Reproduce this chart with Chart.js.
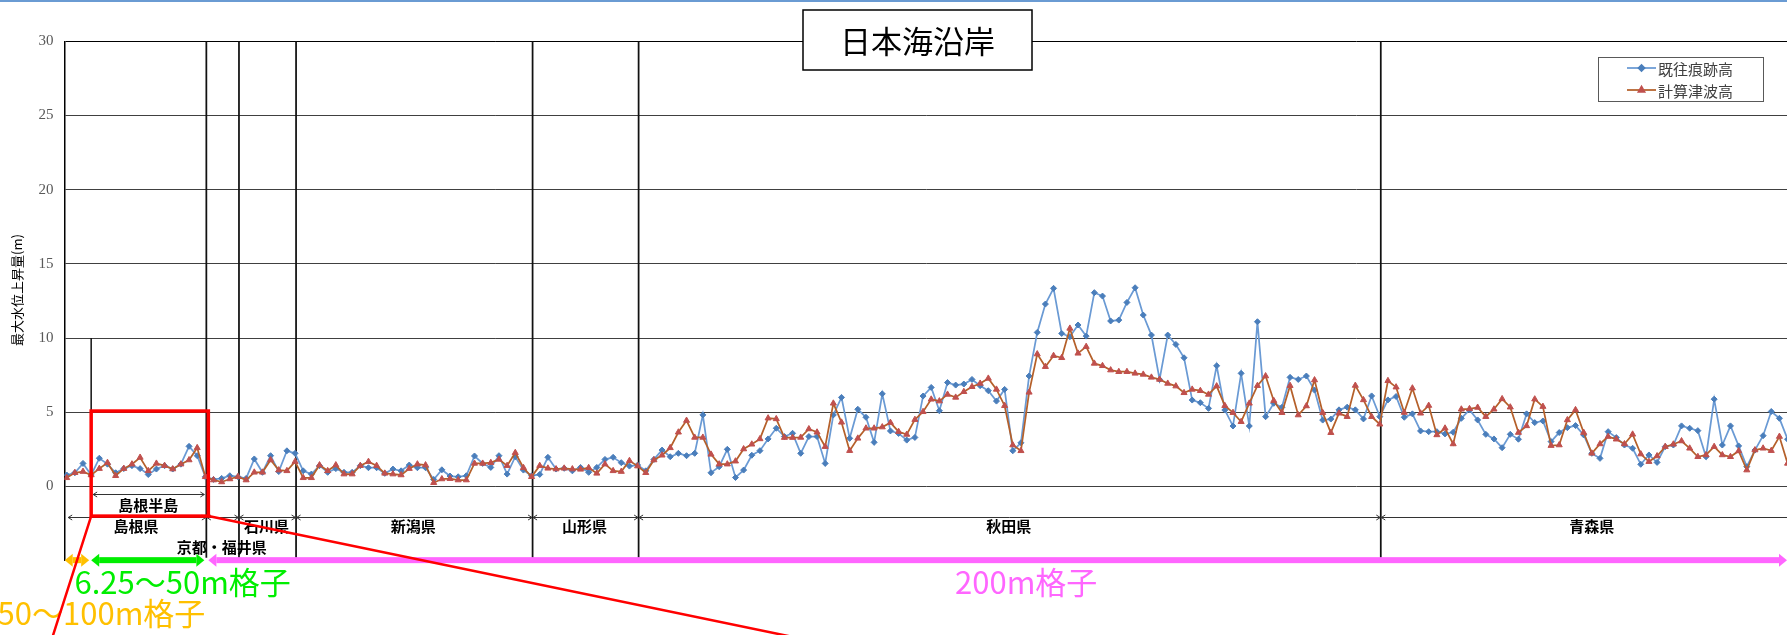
<!DOCTYPE html>
<html lang="ja">
<head>
<meta charset="utf-8">
<title>日本海沿岸</title>
<script src="https://cdn.jsdelivr.net/npm/chart.js@4.4.1/dist/chart.umd.min.js"></script>
<style>
  html, body { margin: 0; padding: 0; background: #fff; overflow: hidden; }
  canvas { display: block; }
</style>
</head>
<body>
<canvas id="tsunamiChart" width="1787" height="635"></canvas>
<script>
// 日本海沿岸 : 既往痕跡高 vs 計算津波高 (最大水位上昇量, m)
const seriesNames = ['既往痕跡高', '計算津波高'];

const blue = [
  0.77, 0.92, 1.55, 0.77, 1.9, 1.5, 0.92, 1.2, 1.4, 1.2, 0.8, 1.17,
  1.4, 1.17, 1.5, 2.7, 2.07, 0.65, 0.47, 0.54, 0.72, 0.65, 0.54, 1.85,
  0.95, 2.07, 1.0, 2.4, 2.23, 1.05, 0.83, 1.4, 0.95, 1.2, 0.95, 0.95,
  1.4, 1.26, 1.26, 0.88, 1.17, 1.05, 1.44, 1.26, 1.26, 0.47, 1.12, 0.7,
  0.65, 0.72, 2.05, 1.55, 1.28, 2.07, 0.83, 2.0, 1.1, 0.72, 0.81, 1.96,
  1.17, 1.22, 1.05, 1.28, 0.95, 1.28, 1.82, 1.96, 1.6, 1.37, 1.44, 1.05,
  1.82, 2.45, 2.0, 2.23, 2.07, 2.23, 4.82, 0.92, 1.33, 2.5, 0.6, 1.1,
  2.1, 2.41, 3.2, 3.92, 3.36, 3.58, 2.23, 3.36, 3.36, 1.55, 4.82, 6.0,
  3.24, 5.2, 4.66, 2.97, 6.24, 3.74, 3.57, 3.12, 3.3, 6.09, 6.67, 5.1,
  7.0, 6.83, 6.9, 7.21, 6.79, 6.45, 5.75, 6.54, 2.4, 2.94, 7.44, 10.38,
  12.29, 13.35, 10.31, 10.09, 10.88, 10.13, 13.06, 12.83, 11.15, 11.21, 12.4, 13.39,
  11.55, 10.2, 7.21, 10.2, 9.57, 8.67, 5.82, 5.64, 5.26, 8.13, 5.15, 4.07,
  7.62, 4.07, 11.1, 4.7, 5.6, 5.33, 7.35, 7.21, 7.44, 6.49, 4.47, 4.54,
  5.16, 5.34, 5.16, 4.55, 6.1, 4.7, 5.83, 6.06, 4.66, 4.89, 3.74, 3.69,
  3.69, 3.54, 3.65, 4.59, 5.16, 4.48, 3.51, 3.2, 2.61, 3.51, 3.18, 4.89,
  4.3, 4.41, 3.02, 3.63, 3.96, 4.1, 3.47, 2.23, 1.89, 3.69, 3.29, 2.79,
  2.57, 1.49, 2.12, 1.62, 2.68, 2.79, 4.08, 3.92, 3.76, 2.0, 5.88, 2.79,
  4.08, 2.73, 1.33, 2.45, 3.42, 5.05, 4.59, 3.18
];

const red = [
  0.58, 0.92, 1.0, 0.77, 1.2, 1.6, 0.72, 1.2, 1.5, 1.95, 1.05, 1.55,
  1.4, 1.17, 1.5, 1.78, 2.6, 0.65, 0.43, 0.3, 0.5, 0.65, 0.43, 0.95,
  0.95, 1.78, 1.1, 1.05, 1.67, 0.58, 0.58, 1.44, 1.05, 1.44, 0.83, 0.83,
  1.4, 1.67, 1.4, 0.88, 0.83, 0.77, 1.2, 1.5, 1.44, 0.25, 0.5, 0.52,
  0.43, 0.43, 1.55, 1.55, 1.6, 1.82, 1.4, 2.27, 1.26, 0.65, 1.4, 1.22,
  1.17, 1.22, 1.17, 1.15, 1.26, 0.88, 1.5, 1.05, 1.0, 1.73, 1.37, 0.92,
  1.78, 2.1, 2.6, 3.65, 4.44, 3.3, 3.3, 2.16, 1.5, 1.5, 1.7, 2.52,
  2.84, 3.2, 4.6, 4.55, 3.29, 3.29, 3.3, 3.87, 3.65, 2.68, 5.6, 4.32,
  2.41, 3.24, 3.92, 3.92, 4.0, 4.3, 3.69, 3.5, 4.5, 5.03, 5.87, 5.75,
  6.2, 6.0, 6.38, 6.72, 6.94, 7.28, 6.54, 5.44, 2.79, 2.4, 6.34, 8.92,
  8.07, 8.81, 8.67, 10.65, 8.97, 9.42, 8.29, 8.13, 7.84, 7.73, 7.73, 7.62,
  7.55, 7.35, 7.21, 6.94, 6.76, 6.31, 6.54, 6.45, 6.2, 6.76, 5.44, 4.97,
  4.36, 5.6, 6.79, 7.44, 5.78, 4.97, 6.79, 4.81, 5.42, 7.17, 4.97, 3.62,
  4.93, 4.7, 6.8, 5.83, 4.7, 4.19, 7.12, 6.69, 4.98, 6.62, 4.93, 5.45,
  3.47, 3.92, 2.86, 5.2, 5.23, 5.32, 4.7, 5.2, 5.9, 5.34, 3.63, 4.08,
  5.88, 5.38, 2.75, 2.79, 4.48, 5.16, 3.63, 2.23, 2.86, 3.36, 3.18, 2.86,
  3.51, 2.18, 1.67, 2.05, 2.68, 2.84, 3.06, 2.57, 2.0, 2.12, 2.68, 2.12,
  2.0, 2.39, 1.1, 2.45, 2.57, 2.41, 3.36, 1.55
];

// point numbers along the coast (x categories)
const pointNo = blue.map((_, i) => i + 1);

// prefecture sections: name i spans point prefBounds[i] .. prefBounds[i+1]
const prefNames = ['島根県', '京都・福井県', '石川県', '新潟県', '山形県', '秋田県', '青森県'];
const prefBounds = [1, 18, 22, 29, 58, 71, 162, 214];

// 島根半島 detail section
const peninsulaName = '島根半島';
const peninsulaBounds = [4, 18];

// computational grid sections
const gridNames = ['50～100m格子', '6.25～50m格子', '200m格子'];
const gridBounds = [1, 4, 18, 214];

const yTicks = [0, 5, 10, 15, 20, 25, 30];

const JP = '"Noto Sans CJK JP", "Noto Sans", sans-serif';
const gridColors = ['#FFC000', '#00EE00', '#FF66FF'];

function dimLine(ctx, x1, x2, yy) {
  ctx.beginPath();
  ctx.moveTo(x1, yy); ctx.lineTo(x2, yy);
  ctx.moveTo(x1 + 4, yy - 2.5); ctx.lineTo(x1, yy); ctx.lineTo(x1 + 4, yy + 2.5);
  ctx.moveTo(x2 - 4, yy - 2.5); ctx.lineTo(x2, yy); ctx.lineTo(x2 - 4, yy + 2.5);
  ctx.stroke();
}

function fatArrow(ctx, x1, x2, yy, color) {
  const shaft = 6, head = 8, half = 6.5;
  ctx.fillStyle = color;
  ctx.fillRect(x1 + head, yy - shaft / 2, x2 - x1 - 2 * head, shaft);
  ctx.beginPath();
  ctx.moveTo(x1, yy); ctx.lineTo(x1 + head, yy - half); ctx.lineTo(x1 + head, yy + half);
  ctx.closePath(); ctx.fill();
  ctx.beginPath();
  ctx.moveTo(x2, yy); ctx.lineTo(x2 - head, yy - half); ctx.lineTo(x2 - head, yy + half);
  ctx.closePath(); ctx.fill();
}

const overlay = {
  id: 'overlay',
  beforeDatasetsDraw(chart) {
    const { ctx, chartArea: a, scales: { x, y } } = chart;
    ctx.save();
    // section boundaries
    ctx.strokeStyle = '#111';
    ctx.lineWidth = 1.75;
    const yTop = y.getPixelForValue(30), yBot = y.getPixelForValue(-4.8);
    prefBounds.slice(1, -1).forEach(b => {
      const xx = x.getPixelForValue(b) + 1;
      ctx.beginPath(); ctx.moveTo(xx, yTop); ctx.lineTo(xx, yBot); ctx.stroke();
    });
    const xp = x.getPixelForValue(peninsulaBounds[0]);
    ctx.lineWidth = 1.5;
    ctx.beginPath(); ctx.moveTo(xp, y.getPixelForValue(10)); ctx.lineTo(xp, y.getPixelForValue(5)); ctx.stroke();

    // dimension lines
    ctx.strokeStyle = '#333';
    ctx.lineWidth = 1;
    const yRow = Math.round(y.getPixelForValue(-2.09)) + 0.5;
    for (let i = 0; i < prefNames.length; i++) {
      const x1 = Math.max(a.left, x.getPixelForValue(prefBounds[i])) + 1.5;
      const x2 = x.getPixelForValue(prefBounds[i + 1]) + 0.5;
      dimLine(ctx, x1, x2, yRow);
    }
    const yPen = Math.round(y.getPixelForValue(-0.54)) + 0.5;
    dimLine(ctx, x.getPixelForValue(peninsulaBounds[0]) + 2, x.getPixelForValue(peninsulaBounds[1]) - 1, yPen);
    ctx.restore();
  },
  afterDraw(chart) {
    const { ctx, chartArea: a, scales: { x, y } } = chart;
    ctx.save();

    // prefecture labels
    ctx.fillStyle = '#000';
    ctx.textAlign = 'center';
    ctx.textBaseline = 'middle';
    ctx.font = 'bold 15px ' + JP;
    for (let i = 0; i < prefNames.length; i++) {
      const x1 = Math.max(a.left, x.getPixelForValue(prefBounds[i]));
      const x2 = x.getPixelForValue(prefBounds[i + 1]);
      const w = ctx.measureText(prefNames[i]).width;
      const low = w > x2 - x1;
      ctx.fillText(prefNames[i], (x1 + x2) / 2, y.getPixelForValue(low ? -4.07 : -2.68));
    }
    ctx.fillText(peninsulaName,
      (x.getPixelForValue(peninsulaBounds[0]) + x.getPixelForValue(peninsulaBounds[1])) / 2,
      y.getPixelForValue(-1.26));

    // grid-size arrows
    const yArr = y.getPixelForValue(-4.97);
    const gx = gridBounds.map(b => Math.max(a.left - 3, x.getPixelForValue(b)));
    fatArrow(ctx, gx[0] - 2, gx[1] - 2, yArr, gridColors[0]);
    fatArrow(ctx, gx[1], gx[2] - 1, yArr, gridColors[1]);
    fatArrow(ctx, gx[2] + 3, chart.width, yArr, gridColors[2]);

    ctx.font = '31px ' + JP;
    ctx.fillStyle = gridColors[0];
    ctx.textAlign = 'right';
    ctx.fillText(gridNames[0], gx[2], y.getPixelForValue(-8.54));
    ctx.fillStyle = gridColors[1];
    ctx.textAlign = 'left';
    ctx.fillText(gridNames[1], a.left + 10, y.getPixelForValue(-6.43));
    ctx.fillStyle = gridColors[2];
    ctx.textAlign = 'center';
    ctx.fillText(gridNames[2], (gx[2] + chart.width) / 2 + 30, y.getPixelForValue(-6.43));

    // red callout box around 島根半島
    const bx1 = x.getPixelForValue(peninsulaBounds[0]);
    const bx2 = x.getPixelForValue(peninsulaBounds[1]) + 3;
    const by1 = y.getPixelForValue(5.08), by2 = y.getPixelForValue(-2.0);
    ctx.strokeStyle = '#FF0000';
    ctx.lineWidth = 3.5;
    ctx.strokeRect(bx1, by1, bx2 - bx1, by2 - by1);
    ctx.lineWidth = 2.5;
    ctx.beginPath();
    ctx.moveTo(bx1, by2); ctx.lineTo(bx1 - 0.32 * (chart.height - by2 + 5), chart.height + 5);
    ctx.moveTo(bx2, by2); ctx.lineTo(bx2 + (chart.height - by2 + 5) / 0.2068, chart.height + 5);
    ctx.stroke();

    // title box
    ctx.font = '31px ' + JP;
    ctx.fillStyle = '#fff';
    ctx.fillRect(803, 10, 229, 60);
    ctx.strokeStyle = '#000';
    ctx.lineWidth = 1.5;
    ctx.strokeRect(803, 10, 229, 60);
    ctx.fillStyle = '#000';
    ctx.textAlign = 'center';
    ctx.textBaseline = 'middle';
    ctx.fillText('日本海沿岸', 917.5, 41);

    // legend
    ctx.fillStyle = '#fff';
    ctx.fillRect(1598, 57, 165, 44);
    ctx.strokeStyle = '#595959';
    ctx.lineWidth = 1;
    ctx.strokeRect(1598.5, 57.5, 165, 44);
    ctx.font = '15px ' + JP;
    ctx.textAlign = 'left';
    const rows = [68, 90];
    chart.data.datasets.slice().sort((p, q) => p.legendIndex - q.legendIndex).forEach((ds, i) => {
      const ly = rows[i];
      ctx.strokeStyle = ds.borderColor;
      ctx.lineWidth = 1.75;
      ctx.beginPath(); ctx.moveTo(1627, ly); ctx.lineTo(1656, ly); ctx.stroke();
      ctx.fillStyle = ds.pointBackgroundColor;
      ctx.strokeStyle = ds.pointBackgroundColor;
      Chart.helpers.drawPoint(ctx, { pointStyle: ds.pointStyle, radius: ds.pointRadius, borderWidth: 1, rotation: 0 }, 1641.5, ly);
      ctx.fillStyle = '#404040';
      ctx.fillText(ds.label, 1658, ly + 1);
    });

    // y axis title
    ctx.save();
    ctx.translate(17, 290);
    ctx.rotate(-Math.PI / 2);
    ctx.font = '13px ' + JP;
    ctx.fillStyle = '#000';
    ctx.textAlign = 'center';
    ctx.fillText('最大水位上昇量(m)', 0, 0);
    ctx.restore();

    // frame line at the very top of the picture
    ctx.fillStyle = '#6A9BD3';
    ctx.fillRect(0, 0, chart.width, 2);
    ctx.restore();
  }
};

new Chart(document.getElementById('tsunamiChart'), {
  type: 'line',
  data: {
    labels: pointNo,
    datasets: [
      {
        label: seriesNames[0],
        legendIndex: 0,
        order: 1,
        data: blue,
        borderColor: '#6A9AD4',
        borderWidth: 1.75,
        pointStyle: 'rectRot',
        pointRadius: 3,
        pointBackgroundColor: '#4A7EBB',
        pointBorderColor: '#4A7EBB',
        pointBorderWidth: 1,
        tension: 0
      },
      {
        label: seriesNames[1],
        legendIndex: 1,
        order: 0,
        data: red,
        borderColor: '#B5602A',
        borderWidth: 1.75,
        pointStyle: 'triangle',
        pointRadius: 3.5,
        pointBackgroundColor: '#C0504D',
        pointBorderColor: '#C0504D',
        pointBorderWidth: 1,
        tension: 0
      }
    ]
  },
  options: {
    responsive: false,
    animation: false,
    layout: { padding: { top: 41.3, bottom: 74.4, left: 0, right: 0 }, autoPadding: false },
    plugins: {
      legend: { display: false },
      tooltip: { enabled: false },
      title: { display: false }
    },
    scales: {
      x: { type: 'linear', display: false, min: 0.73, max: 211.93 },
      y: {
        min: -5,
        max: 30,
        afterFit(scale) { scale.width = 64.5; },
        afterBuildTicks(scale) { scale.ticks = [-5].concat(yTicks).map(v => ({ value: v })); },
        ticks: {
          padding: 11,
          color: '#595959',
          font: { family: '"Liberation Serif", serif', size: 15 },
          callback: v => (v < 0 ? '' : v)
        },
        grid: {
          drawTicks: false,
          lineWidth: 1,
          color: c => (c.tick.value < 0 ? 'rgba(0,0,0,0)' : c.tick.value === 30 ? '#000' : '#404040')
        },
        border: { display: true, color: '#000', width: 1.5 }
      }
    }
  },
  plugins: [overlay]
});
</script>
</body>
</html>
